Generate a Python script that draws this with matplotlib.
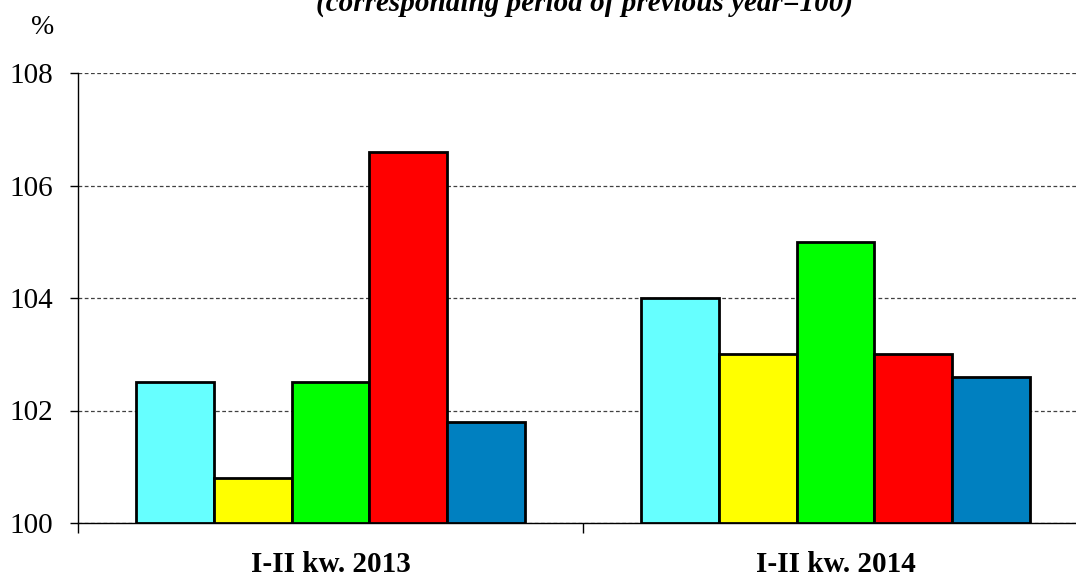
import numpy as np
import matplotlib
matplotlib.use("Agg")
import matplotlib.pyplot as plt

plt.rcParams['font.family'] = ['Liberation Serif', 'DejaVu Serif']

# data
categories = ['I-II kw. 2013', 'I-II kw. 2014']
cyan_vals = [102.5, 104.0]
yellow_vals = [100.8, 103.0]
green_vals = [102.5, 105.0]
red_vals = [106.6, 103.0]
blue_vals = [101.8, 102.6]
series = [cyan_vals, yellow_vals, green_vals, red_vals, blue_vals]
colors = ['#66FFFF', '#FFFF00', '#00FF00', '#FF0000', '#0080C0']
yticks = [100, 102, 104, 106, 108]

fig = plt.figure(figsize=(10.76, 5.76), dpi=100)
ax = fig.add_axes([78 / 1076, 1 - 523 / 576, 1010 / 1076, 450 / 576])

x = np.arange(len(categories))
w = 0.77 / len(series)
for i, (vals, c) in enumerate(zip(series, colors)):
    ax.bar(x + (i - 2) * w, np.array(vals) - 100, bottom=100, width=w,
           color=c, edgecolor='black', linewidth=2, zorder=3)

ax.set_xlim(-0.5, 1.5)
ax.set_ylim(100, 108)
ax.set_yticks(yticks)
ax.set_yticklabels([str(t) for t in yticks], fontsize=21)
ax.set_xticks(x)
ax.set_xticklabels(categories, fontsize=21, fontweight='bold')
ax.set_xticks([-0.5, 0.5, 1.5], minor=True)
ax.tick_params(axis='x', which='major', length=0, pad=20)
ax.tick_params(axis='x', which='minor', length=7, width=1, direction='out')
ax.tick_params(axis='y', length=6, width=1, direction='out', pad=12)

ax.grid(axis='y', linestyle=(0, (3, 2)), color='#404040', linewidth=0.9, zorder=0)
for s in ['top', 'right']:
    ax.spines[s].set_visible(False)
ax.spines['left'].set_linewidth(1)
ax.spines['bottom'].set_linewidth(1)

fig.text(43 / 1076, 1 - 27 / 576, '%', fontsize=20, ha='center', va='center')
fig.text(585 / 1076, 1 - 3 / 576, '(corresponding period of previous year=100)',
         fontsize=21, fontweight='bold', fontstyle='italic', ha='center', va='center')

fig.savefig('out.png', dpi=100)
